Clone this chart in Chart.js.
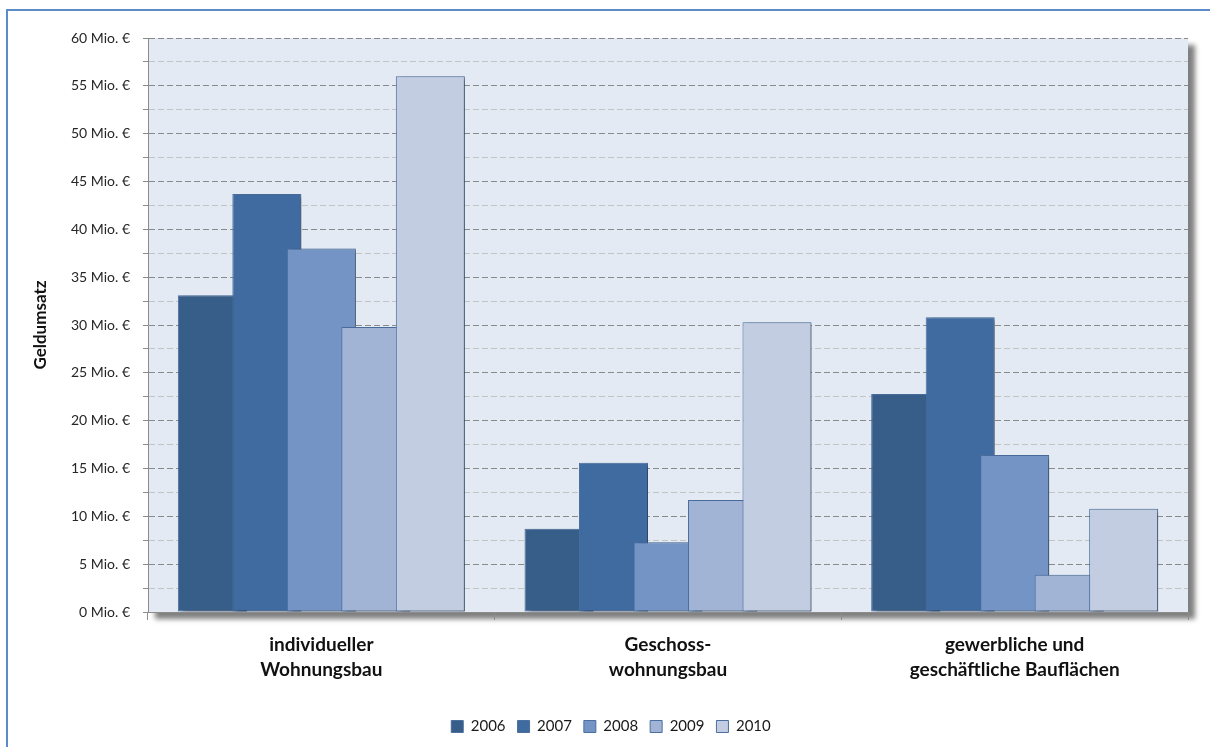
<!DOCTYPE html>
<html lang="de">
<head>
<meta charset="utf-8">
<title>Geldumsatz nach Teilmärkten 2006–2010</title>
<script src="https://cdn.jsdelivr.net/npm/chart.js@4/dist/chart.umd.min.js"></script>
<style>
  html, body { margin: 0; padding: 0; background: #ffffff; }
  #frame {
    position: absolute; left: 6px; top: 9px; width: 1300px; height: 800px;
    border-left: 2px solid #5B8BC8; border-top: 2px solid #5B8BC8;
    box-sizing: border-box;
  }
  #wrap { position: absolute; left: 0; top: 0; width: 1210px; height: 747px; }
</style>
</head>
<body>
<div id="frame"></div>
<div id="wrap"><canvas id="chart" width="1210" height="747"></canvas></div>
<script>
// Teilmärkte (x-axis categories, two-line labels)
const categories = [
  ['individueller', 'Wohnungsbau'],
  ['Geschoss-', 'wohnungsbau'],
  ['gewerbliche und', 'geschäftliche Bauflächen']
];

// Jahre (series)
const years = ['2006', '2007', '2008', '2009', '2010'];

// Geldumsatz in Mio. € per category
const umsatz2006 = [33.1, 8.7, 22.8];
const umsatz2007 = [43.7, 15.6, 30.8];
const umsatz2008 = [38.0, 7.3, 16.4];
const umsatz2009 = [29.8, 11.7, 3.9];
const umsatz2010 = [56.0, 30.3, 10.8];

// y-axis range and tick spacing (labels on every 5, minor lines at 2.5)
const yMin = 0;
const yMax = 60;
const yStep = 2.5;
const yLabelStep = 5;
const yUnit = ' Mio. €';

const seriesValues = [umsatz2006, umsatz2007, umsatz2008, umsatz2009, umsatz2010];
const seriesColors = ['#375D89', '#3F6BA0', '#7394C4', '#A1B4D5', '#C2CDE2'];

const FONT = 'Lato, "Open Sans", "DejaVu Sans", sans-serif';

// Plot area background with a soft drop shadow
const plotBackground = {
  id: 'plotBackground',
  beforeDraw(chart) {
    const {ctx, chartArea: a} = chart;
    ctx.save();
    ctx.shadowColor = 'rgba(0,0,0,0.5)';
    ctx.shadowBlur = 5;
    ctx.shadowOffsetX = 7;
    ctx.shadowOffsetY = 7;
    ctx.fillStyle = '#E3EAF4';
    ctx.fillRect(a.left, a.top, a.right - a.left, a.bottom - a.top);
    ctx.restore();
  }
};

// Draw the series left to right so each later bar overlaps the previous one,
// each with a small shadow to the right.
const overlapDraw = {
  id: 'overlapDraw',
  beforeDatasetsDraw(chart) {
    const {ctx} = chart;
    const metas = chart.getSortedVisibleDatasetMetas().slice().sort((a, b) => a.index - b.index);
    metas.forEach(meta => {
      ctx.save();
      ctx.shadowColor = 'rgba(0,0,0,0.38)';
      ctx.shadowBlur = 4;
      ctx.shadowOffsetX = 4;
      ctx.shadowOffsetY = 2;
      meta.controller.draw();
      ctx.restore();
    });
    return false;
  }
};

const datasets = years.map((y, i) => ({
  label: y,
  data: seriesValues[i],
  backgroundColor: seriesColors[i],
  borderColor: '#4B6F9F',
  borderWidth: 1,
  borderSkipped: false,
  categoryPercentage: 0.786,
  barPercentage: 1.266
}));

new Chart(document.getElementById('chart'), {
  type: 'bar',
  data: { labels: categories, datasets },
  plugins: [plotBackground, overlapDraw],
  options: {
    responsive: false,
    animation: false,
    events: [],
    layout: { padding: { left: 34, top: 38, right: 22, bottom: 3 } },
    plugins: {
      tooltip: { enabled: false },
      title: { display: false },
      legend: {
        position: 'bottom',
        labels: {
          font: { family: FONT, size: 15 },
          color: '#1A1A1A',
          boxWidth: 12,
          boxHeight: 12,
          padding: 12,
          generateLabels(chart) {
            return chart.data.datasets.map((ds, i) => ({
              text: ds.label,
              fillStyle: ds.backgroundColor,
              strokeStyle: '#4B6F9F',
              lineWidth: 1,
              hidden: false,
              datasetIndex: i,
              fontColor: '#1A1A1A'
            }));
          }
        }
      }
    },
    scales: {
      x: {
        offset: true,
        afterFit(scale) { scale.height = 95; },
        grid: {
          offset: true,
          drawOnChartArea: false,
          drawTicks: true,
          tickLength: 8,
          color: '#8C8C8C',
          tickColor: '#8C8C8C'
        },
        border: { display: true, color: '#8C8C8C', width: 1 },
        ticks: {
          autoSkip: false,
          maxRotation: 0,
          minRotation: 0,
          padding: 12,
          color: '#111111',
          font: { family: FONT, size: 19, weight: 'bold', lineHeight: 1.32 }
        }
      },
      y: {
        min: yMin,
        max: yMax,
        afterFit(scale) { scale.width = 114; },
        title: {
          display: true,
          text: 'Geldumsatz',
          color: '#111111',
          font: { family: FONT, size: 17, weight: 'bold', lineHeight: 0.8 },
          padding: { top: 0, bottom: 0 }
        },
        grid: {
          color: ctx => (ctx.tick && ctx.tick.value % yLabelStep === 0) ? '#8A8A8A' : '#C4C4C4',
          lineWidth: 1,
          drawTicks: true,
          tickLength: 5,
          tickColor: '#8C8C8C'
        },
        border: { display: true, color: '#8C8C8C', width: 1, dash: [6, 3] },
        ticks: {
          stepSize: yStep,
          autoSkip: false,
          padding: 13,
          color: '#262626',
          font: { family: FONT, size: 14 },
          callback: v => (v % yLabelStep === 0) ? v + yUnit : ''
        }
      }
    }
  }
});
</script>
</body>
</html>
